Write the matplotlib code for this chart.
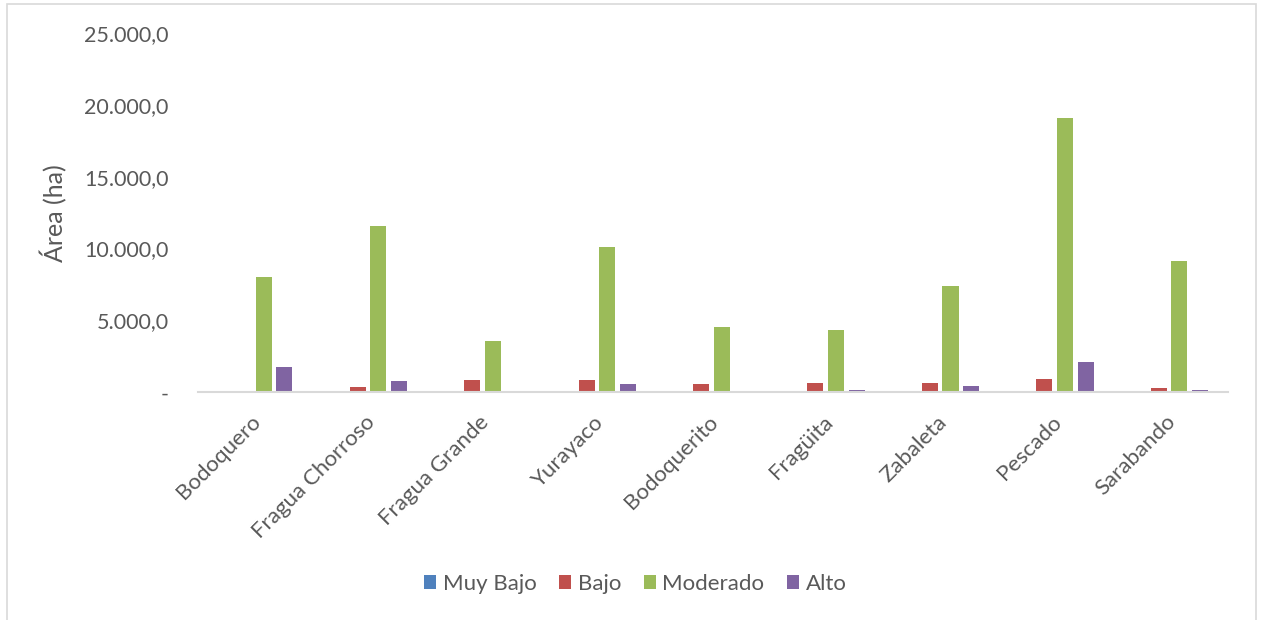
import matplotlib
matplotlib.use("Agg")
import matplotlib.pyplot as plt
from matplotlib.patches import Rectangle
from matplotlib.ticker import FuncFormatter
from matplotlib.transforms import ScaledTranslation
import numpy as np

plt.rcParams['font.family'] = ['Lato', 'DejaVu Sans']

# microcuencas y área (ha) por categoría
cuencas = ["Bodoquero", "Fragua Chorroso", "Fragua Grande", "Yurayaco",
           "Bodoquerito", "Fragüita", "Zabaleta", "Pescado", "Sarabando"]
muy_bajo = [0, 0, 0, 0, 0, 0, 0, 0, 0]
bajo = [0, 380, 840, 860, 550, 660, 660, 910, 300]
moderado = [8000, 11550, 3550, 10100, 4510, 4360, 7370, 19100, 9100]
alto = [1740, 770, 0, 600, 60, 160, 430, 2110, 160]

series = ["Muy Bajo", "Bajo", "Moderado", "Alto"]
colores = ["#4F81BD", "#C0504D", "#9BBB59", "#8064A2"]
texto = "#595959"

fig = plt.figure(figsize=(12.63, 6.2), dpi=100)
ax = fig.add_axes([0.1568, 0.3673, 0.8155, 0.5795])

x = np.arange(len(cuencas))
paso = 0.18
ancho = 0.14
for i, (nombre, vals, c) in enumerate(zip(series, [muy_bajo, bajo, moderado, alto], colores)):
    ax.bar(x + (i - 1.5) * paso - 0.015, vals, width=ancho, color=c, label=nombre,
           linewidth=0, zorder=2)

ax.set_xlim(-0.5, len(cuencas) - 0.5)
ax.set_ylim(0, 25000)
ax.set_yticks(np.arange(0, 25001, 5000))


def fmt(v, pos):
    if v == 0:
        return "-"
    s = f"{v:,.1f}"
    return s.replace(",", "X").replace(".", ",").replace("X", ".")


ax.yaxis.set_major_formatter(FuncFormatter(fmt))
ax.tick_params(axis="y", length=0, pad=21, labelsize=15.5, labelcolor=texto)
ax.tick_params(axis="x", length=0, pad=14, labelsize=16, labelcolor=texto)
ax.set_xticks(x)
ax.set_xticklabels(cuencas, rotation=45, ha="right", rotation_mode="anchor")
desplaza = ScaledTranslation(-5 / 100, 0, fig.dpi_scale_trans)
for lab in ax.get_xticklabels():
    lab.set_transform(lab.get_transform() + desplaza)

for s in ["top", "right", "left"]:
    ax.spines[s].set_visible(False)
ax.spines["bottom"].set_color("#d9d9d9")
ax.spines["bottom"].set_linewidth(1.5)

ax.set_ylabel("Área (ha)", fontsize=18, color=texto, labelpad=12)

fig.legend(loc="center", bbox_to_anchor=(0.503, 0.058), ncol=4, frameon=False,
           fontsize=16, handlelength=0.55, handleheight=0.55, handletextpad=0.3,
           columnspacing=1.0, labelcolor=texto)

fig.patches.append(Rectangle((7 / 1263, -0.05), 1249 / 1263, 1.05 - 4 / 620,
                             transform=fig.transFigure, fill=False,
                             edgecolor="#d9d9d9", linewidth=1.2))

fig.savefig("out.png", dpi=100)
